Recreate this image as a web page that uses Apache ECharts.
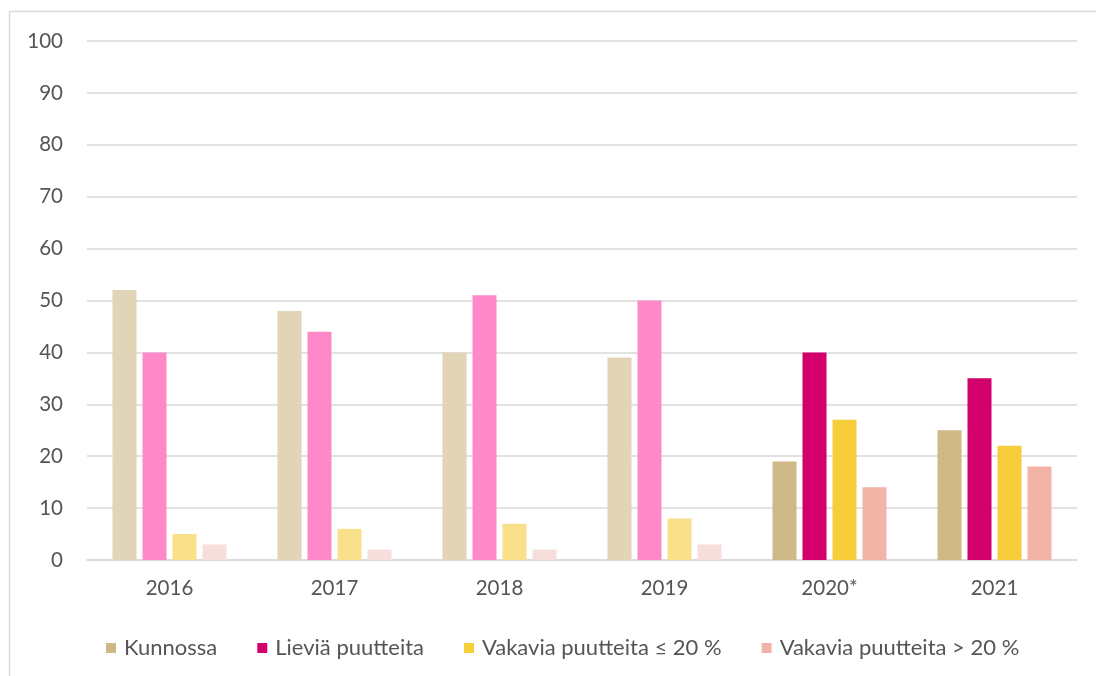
<!DOCTYPE html>
<html>
<head>
<meta charset="utf-8">
<script src="https://cdn.jsdelivr.net/npm/echarts@6/dist/echarts.min.js"></script>
<style>
  html, body { margin: 0; padding: 0; background: #fff; }
  #main { width: 1096px; height: 676px; }
</style>
</head>
<body>
<div id="main"></div>
<script>
// vuodet ja sarjat
var years = ['2016', '2017', '2018', '2019', '2020*', '2021'];
var seriesNames = ['Kunnossa', 'Lieviä puutteita', 'Vakavia puutteita ≤ 20 %', 'Vakavia puutteita > 20 %'];
var kunnossa = [52, 48, 40, 39, 19, 25];
var lievia = [40, 44, 51, 50, 40, 35];
var vakaviaAlle = [5, 6, 7, 8, 27, 22];
var vakaviaYli = [3, 2, 2, 3, 14, 18];
var yTicks = [0, 10, 20, 30, 40, 50, 60, 70, 80, 90, 100];

// 2020 alkaen tummat värit, sitä ennen vaaleat
var darkColors = ['#CFB987', '#D1006B', '#F6CE3C', '#F1B4A7'];
var lightColors = ['#E1D4B7', '#FF89C8', '#F9E08A', '#F6DFDA'];

var values = [kunnossa, lievia, vakaviaAlle, vakaviaYli];

var myChart = echarts.init(document.getElementById('main'));

var series = values.map(function (arr, s) {
    return {
        name: seriesNames[s],
        type: 'bar',
        barWidth: 24,
        barGap: '25%',
        itemStyle: { color: darkColors[s] },
        data: arr.map(function (v, i) {
            return i < 4 ? { value: v, itemStyle: { color: lightColors[s] } } : v;
        })
    };
});

var option = {
    backgroundColor: '#fff',
    textStyle: { fontFamily: 'Lato, "Open Sans", sans-serif' },
    color: darkColors,
    graphic: [{
        type: 'rect',
        shape: { x: 9.5, y: 11.5, width: 1200, height: 800 },
        style: { fill: 'none', stroke: '#D9D9D9', lineWidth: 1.5 },
        silent: true
    }],
    grid: { left: 87, right: 19, top: 41, bottom: 116 },
    legend: {
        left: 101,
        top: 632,
        itemWidth: 10,
        itemHeight: 10,
        itemGap: 40,
        icon: 'rect',
        textStyle: { color: '#555', fontSize: 22, padding: [0, 0, 0, 3] },
        data: seriesNames
    },
    xAxis: {
        type: 'category',
        data: years,
        axisLine: { lineStyle: { color: '#D9D9D9', width: 1.5 } },
        axisTick: { show: false },
        axisLabel: { color: '#555', fontSize: 20.5, margin: 18 }
    },
    yAxis: {
        type: 'value',
        min: yTicks[0],
        max: yTicks[yTicks.length - 1],
        interval: 10,
        axisLine: { show: false },
        axisTick: { show: false },
        axisLabel: { color: '#555', fontSize: 20.5, margin: 24 },
        splitLine: { lineStyle: { color: '#D9D9D9', width: 1.5 } }
    },
    series: series
};

myChart.setOption(option);
</script>
</body>
</html>
